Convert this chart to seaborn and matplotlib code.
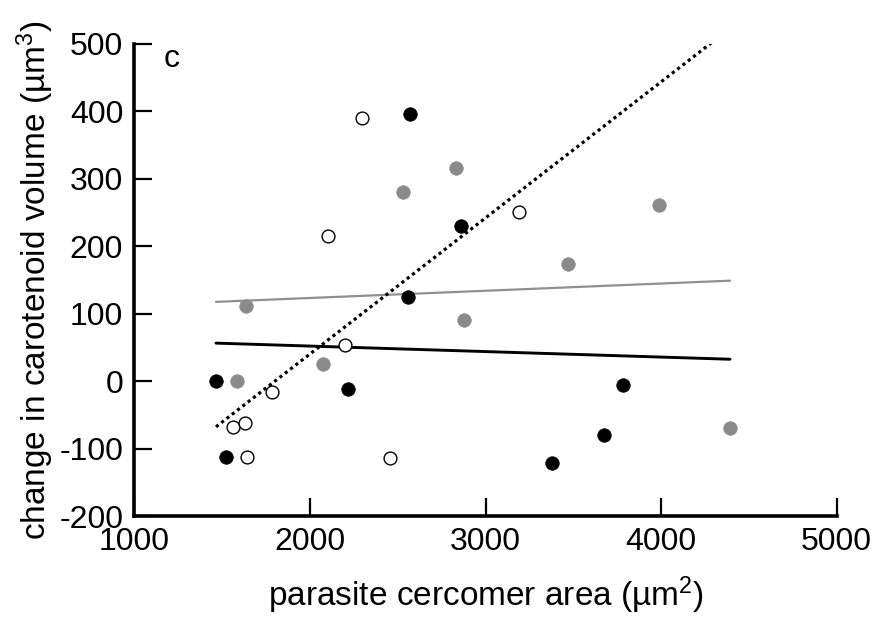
import numpy as np
import pandas as pd
import matplotlib
matplotlib.use("Agg")
import matplotlib.pyplot as plt
import seaborn as sns

# values
black_x = [1465, 1523, 2218, 2560, 2569, 2863, 3783, 3673, 3379]
black_y = [0, -112, -12, 124, 395, 230, -6, -79, -121]

grey_x = [2531, 2831, 1636, 1583, 2076, 2878, 3470, 3988, 4392]
grey_y = [280, 315, 112, 0, 25, 91, 174, 261, -70]

open_x = [2298, 2101, 2199, 1786, 1560, 1630, 1643, 2455, 3190]
open_y = [389, 215, 53, -16, -68, -62, -112, -114, 251]

x_ticks = [1000, 2000, 3000, 4000, 5000]
y_ticks = [-200, -100, 0, 100, 200, 300, 400, 500]

sns.set_style("ticks")
plt.rcParams["font.family"] = ["Liberation Sans", "DejaVu Sans"]
plt.rcParams["mathtext.fontset"] = "custom"
plt.rcParams["mathtext.rm"] = "Liberation Sans"
plt.rcParams["mathtext.it"] = "Liberation Sans"
plt.rcParams["axes.unicode_minus"] = False
plt.rcParams["text.color"] = "black"
plt.rcParams["axes.labelcolor"] = "black"
plt.rcParams["xtick.color"] = "black"
plt.rcParams["ytick.color"] = "black"
plt.rcParams["axes.edgecolor"] = "black"

fig = plt.figure(figsize=(8.78, 6.22), dpi=100)
ax = fig.add_axes([0.153, 0.170, 0.800, 0.760])

# regression lines, one per group, drawn over the full x range of the data
all_x = np.array(black_x + grey_x + open_x)
x_line = np.array([all_x.min(), all_x.max()])
for xs, ys, col, ls, lw in [
    (grey_x, grey_y, "#8f8f8f", "-", 1.6),
    (black_x, black_y, "black", "-", 2.1),
    (open_x, open_y, "black", (0, (1.0, 1.1)), 2.3),
]:
    slope, icpt = np.polyfit(xs, ys, 1)
    sns.lineplot(x=x_line, y=icpt + slope * x_line, color=col,
                 linestyle=ls, linewidth=lw, ax=ax)

sns.scatterplot(x=black_x, y=black_y, color="black", s=95,
                edgecolor="black", linewidth=0.5, ax=ax, zorder=3)
sns.scatterplot(x=grey_x, y=grey_y, color="#8a8a8a", s=95,
                edgecolor="#8a8a8a", linewidth=0.5, ax=ax, zorder=3)
sns.scatterplot(x=open_x, y=open_y, facecolor="white", s=85,
                edgecolor="black", linewidth=1.0, ax=ax, zorder=3)

ax.set_xlim(1000, 5000)
ax.set_ylim(-200, 500)
ax.set_xticks(x_ticks)
ax.set_yticks(y_ticks)
ax.tick_params(direction="in", length=13, width=1.6, labelsize=23)
ax.tick_params(axis="y", pad=8)
ax.tick_params(axis="x", pad=8)
for side in ["left", "bottom"]:
    ax.spines[side].set_linewidth(2.6)
sns.despine(ax=ax)

ax.set_xlabel("parasite cercomer area (µm$^{2}$)", fontsize=24, labelpad=12)
ax.set_ylabel("change in carotenoid volume (µm$^{3}$)", fontsize=24, labelpad=2)
ax.text(0.053, 0.998, "c", transform=ax.transAxes, fontsize=23,
        ha="center", va="top")

plt.savefig("out.png", dpi=100)
plt.close()
